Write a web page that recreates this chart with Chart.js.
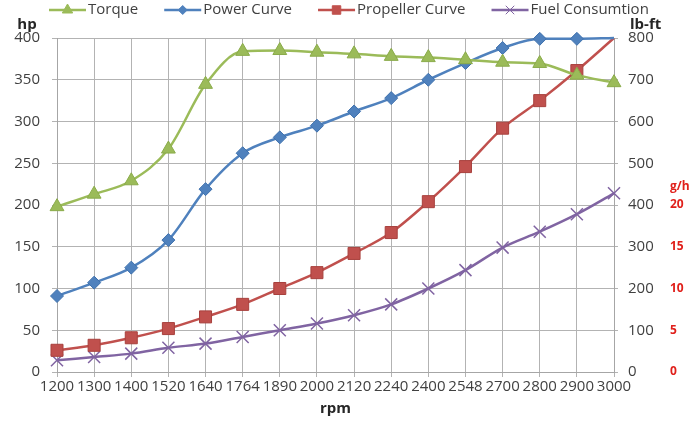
<!DOCTYPE html>
<html>
<head>
<meta charset="utf-8">
<script src="https://cdn.jsdelivr.net/npm/chart.js@4.4.1/dist/chart.umd.min.js"></script>
<style>
  html, body { margin: 0; padding: 0; background: #fff; }
  #wrap { width: 690px; height: 422px; }
</style>
</head>
<body>
<div id="wrap"><canvas id="engineChart"></canvas></div>
<script>
// engine curves vs rpm
const rpmLabels = ['1200', '1300', '1400', '1520', '1640', '1764', '1890', '2000', '2120', '2240', '2400', '2548', '2700', '2800', '2900', '3000'];
const torqueLbft = [396, 426, 458, 534, 689, 768, 770, 766, 762, 756, 753, 748, 742, 739, 711, 693];
const powerHp = [91, 107, 125, 158, 219, 262, 281, 295, 312, 328, 350, 370, 388, 399, 399, 400];
const propellerHp = [26, 32, 41, 52, 66, 81, 100, 119, 142, 167, 204, 246, 292, 325, 361, 400];
const fuelGh = [1.4, 1.8, 2.2, 2.9, 3.4, 4.2, 5.0, 5.8, 6.8, 8.1, 10.0, 12.2, 14.9, 16.8, 18.9, 21.4];

const theme = {
    green: '#9bbb59',
    blue: '#4f81bd',
    red: '#c0504d',
    purple: '#8064a2',
    text: '#404040',
    grid: '#b3b3b3',
    minorGrid: '#dedede',
    axisRed: '#e0201b'
};

Chart.defaults.font.family = '"Open Sans", sans-serif';
Chart.defaults.font.size = 15;
Chart.defaults.color = theme.text;

const lastIdx = rpmLabels.length - 1;

// legend with line + marker, plus the horizontal axis captions
const captionPlugin = {
    id: 'captions',
    afterDraw(chart) {
        const ctx = chart.ctx;
        ctx.save();
        ctx.font = '15px "Open Sans", sans-serif';
        ctx.textBaseline = 'middle';
        let x = 49;
        const y = 10;
        chart.data.datasets.forEach(ds => {
            ctx.strokeStyle = ds.borderColor;
            ctx.fillStyle = ds.borderColor;
            ctx.lineWidth = 2.5;
            ctx.beginPath();
            ctx.moveTo(x, y);
            ctx.lineTo(x + 37, y);
            ctx.stroke();
            ctx.lineWidth = 1;
            Chart.helpers.drawPoint(ctx, { pointStyle: ds.pointStyle, radius: ds.legendRadius, borderWidth: 1, rotation: 0 }, x + 18.5, y);
            ctx.fillStyle = theme.text;
            ctx.textAlign = 'left';
            ctx.fillText(ds.label, x + 39, y);
            x += 39 + ctx.measureText(ds.label).width + 26;
        });

        ctx.fillStyle = '#262626';
        ctx.font = 'bold 15px "Open Sans", sans-serif';
        ctx.textAlign = 'center';
        ctx.fillText('hp', 27, 25);
        ctx.textAlign = 'left';
        ctx.fillText('lb-ft', 630, 25);

        const gh = chart.scales.y2;
        ctx.fillStyle = theme.axisRed;
        ctx.font = 'bold 12px "Open Sans", sans-serif';
        ctx.fillText('g/h', 670, gh.getPixelForValue(20) - 18);
        ctx.restore();
    }
};

new Chart(document.getElementById('engineChart'), {
    type: 'line',
    data: {
        labels: rpmLabels,
        datasets: [
            {
                label: 'Torque',
                data: torqueLbft,
                yAxisID: 'y1',
                borderColor: theme.green,
                backgroundColor: theme.green,
                pointStyle: 'triangle',
                pointRadius: 8,
                legendRadius: 6,
                pointBorderWidth: 1,
                pointBorderColor: '#8aab4a'
            },
            {
                label: 'Power Curve',
                data: powerHp,
                yAxisID: 'y',
                borderColor: theme.blue,
                backgroundColor: theme.blue,
                pointStyle: 'rectRot',
                pointRadius: ctx => ctx.dataIndex === lastIdx ? 0 : 6.5,
                legendRadius: 4.5,
                pointBorderWidth: 1,
                pointBorderColor: '#3f71ad'
            },
            {
                label: 'Propeller Curve',
                data: propellerHp,
                yAxisID: 'y',
                borderColor: theme.red,
                backgroundColor: theme.red,
                pointStyle: 'rect',
                pointRadius: ctx => ctx.dataIndex === lastIdx ? 0 : 8.5,
                legendRadius: 6,
                pointBorderWidth: 1,
                pointBorderColor: '#a8403d'
            },
            {
                label: 'Fuel Consumtion',
                data: fuelGh,
                yAxisID: 'y2',
                borderColor: theme.purple,
                backgroundColor: theme.purple,
                pointStyle: 'crossRot',
                pointRadius: 8.5,
                legendRadius: 6,
                pointBorderWidth: 1.5,
                pointBorderColor: theme.purple
            }
        ].map(ds => ({ ...ds, borderWidth: 2.5, cubicInterpolationMode: 'monotone', clip: false, fill: false }))
    },
    options: {
        responsive: true,
        maintainAspectRatio: false,
        animation: false,
        layout: { padding: { top: 38, left: 0, right: 0, bottom: 0 } },
        plugins: {
            legend: { display: false },
            tooltip: { enabled: false }
        },
        scales: {
            x: {
                grid: { color: theme.grid, tickLength: 5 },
                border: { color: '#a6a6a6' },
                ticks: { color: theme.text, maxRotation: 0, autoSkip: false, padding: 1 },
                title: { display: true, text: 'rpm', color: '#262626', font: { weight: 'bold', size: 15 } },
                afterFit: s => { s.height = 50; }
            },
            y: {
                position: 'left',
                min: 0,
                max: 400,
                ticks: {
                    stepSize: 25,
                    padding: 12,
                    color: theme.text,
                    callback: v => (v % 50 === 0 ? v : '')
                },
                grid: {
                    color: c => (c.tick && c.tick.value % 50 === 0 ? theme.grid : theme.minorGrid),
                    tickColor: c => (c.tick && c.tick.value % 50 === 0 ? theme.grid : 'rgba(0,0,0,0)'),
                    tickLength: 5
                },
                border: { color: '#a6a6a6' },
                afterFit: s => { s.width = 57; }
            },
            y1: {
                position: 'right',
                min: 0,
                max: 800,
                ticks: { stepSize: 100, padding: 10, color: theme.text },
                grid: { drawOnChartArea: false, tickLength: 4, color: theme.grid },
                border: { color: '#a6a6a6' },
                afterFit: s => { s.width = 45; }
            },
            y2: {
                position: 'right',
                min: 0,
                max: 40,
                ticks: {
                    stepSize: 5,
                    padding: 11,
                    color: theme.axisRed,
                    font: { weight: 'bold', size: 12 },
                    callback: v => (v <= 20 ? v : '')
                },
                grid: { display: false, drawTicks: false },
                border: { display: false },
                afterFit: s => { s.width = 31; }
            }
        }
    },
    plugins: [captionPlugin]
});
</script>
</body>
</html>
